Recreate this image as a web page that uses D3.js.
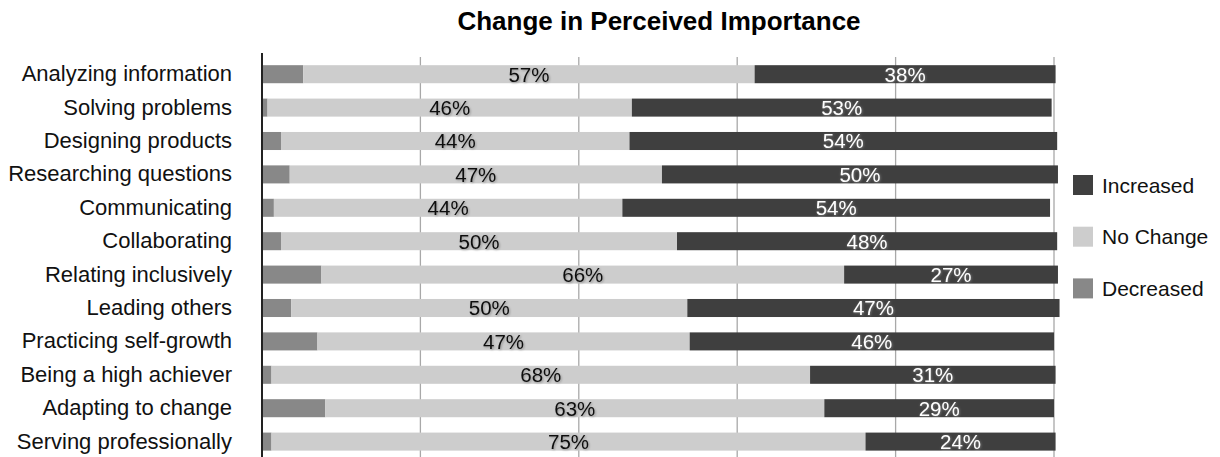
<!DOCTYPE html>
<html>
<head>
<meta charset="utf-8">
<script src="https://cdn.jsdelivr.net/npm/d3@7"></script>
<style>
  html, body { margin: 0; padding: 0; background: #fff; }
  svg { display: block; font-family: "Liberation Sans", Arial, Helvetica, sans-serif; }
</style>
</head>
<body>
<svg id="chart" width="1220" height="457"></svg>
<script>
// Skills, top to bottom
const categories = [
  "Analyzing information", "Solving problems", "Designing products",
  "Researching questions", "Communicating", "Collaborating",
  "Relating inclusively", "Leading others", "Practicing self-growth",
  "Being a high achiever", "Adapting to change", "Serving professionally"
];
// Share of respondents (%) per response
const decreased = [5.2, 0.7, 2.4, 3.5, 1.5, 2.4, 7.5, 3.7, 7.0, 1.2, 8.0, 1.2];
const noChange  = [57, 46, 44, 47, 44, 50, 66, 50, 47, 68, 63, 75];
const increased = [38, 53, 54, 50, 54, 48, 27, 47, 46, 31, 29, 24];

const seriesNames = ["Decreased", "No Change", "Increased"];
const legendOrder = ["Increased", "No Change", "Decreased"];
const gridTicks = [0, 20, 40, 60, 80, 100];

const colors = { "Decreased": "#888888", "No Change": "#cdcdcd", "Increased": "#3f3f3f" };

const rows = categories.map((c, i) => ({
  category: c,
  "Decreased": decreased[i],
  "No Change": noChange[i],
  "Increased": increased[i]
}));

const svg = d3.select("#chart");

const x = d3.scaleLinear().domain([0, 100]).range([262, 1054]);
const y = d3.scaleBand().domain(categories)
  .range([57.5, 458.3]).paddingInner(0.46).paddingOuter(0.23);

// Soft shadows behind the value labels
const defs = svg.append("defs");
const darkShadow = defs.append("filter").attr("id", "shadowDark")
  .attr("x", "-20%").attr("y", "-30%").attr("width", "140%").attr("height", "160%");
darkShadow.append("feDropShadow").attr("dx", 1).attr("dy", 1)
  .attr("stdDeviation", 0.9).attr("flood-color", "#000").attr("flood-opacity", 0.3);
const lightShadow = defs.append("filter").attr("id", "shadowLight")
  .attr("x", "-20%").attr("y", "-30%").attr("width", "140%").attr("height", "160%");
lightShadow.append("feDropShadow").attr("dx", 0.5).attr("dy", 0.5)
  .attr("stdDeviation", 1).attr("flood-color", "#fff").attr("flood-opacity", 0.35);

// Title
svg.append("text")
  .attr("x", 659).attr("y", 30)
  .attr("text-anchor", "middle")
  .attr("font-size", 26).attr("font-weight", "bold")
  .attr("fill", "#000")
  .text("Change in Perceived Importance");

// Vertical gridlines
svg.append("g")
  .selectAll("line")
  .data(gridTicks.slice(1))
  .join("line")
  .attr("x1", d => x(d)).attr("x2", d => x(d))
  .attr("y1", 57).attr("y2", 457)
  .attr("stroke", "#a8a8a8").attr("stroke-width", 1.3);

// Stacked bars
const stack = d3.stack().keys(seriesNames);
const layers = stack(rows);

svg.append("g")
  .selectAll("g")
  .data(layers)
  .join("g")
  .attr("fill", d => colors[d.key])
  .selectAll("rect")
  .data(d => d)
  .join("rect")
  .attr("x", d => x(d[0]))
  .attr("width", d => x(d[1]) - x(d[0]))
  .attr("y", d => y(d.data.category))
  .attr("height", y.bandwidth());

// Value labels for No Change and Increased
const labelLayers = layers.filter(l => l.key !== "Decreased");
labelLayers.forEach(layer => {
  const isInc = layer.key === "Increased";
  svg.append("g")
    .selectAll("text")
    .data(layer)
    .join("text")
    .attr("x", d => (x(d[0]) + x(d[1])) / 2)
    .attr("y", d => y(d.data.category) + y.bandwidth() / 2)
    .attr("dy", "0.36em")
    .attr("text-anchor", "middle")
    .attr("font-size", 20.5)
    .attr("fill", isInc ? "#ffffff" : "#111111")
    .attr("filter", isInc ? "url(#shadowLight)" : "url(#shadowDark)")
    .text(d => d.data[layer.key] + "%");
});

// Category axis
const yAxis = d3.axisLeft(y).tickSize(0).tickPadding(30);
const gAxis = svg.append("g")
  .attr("transform", `translate(${x(0)},0)`)
  .call(yAxis);
gAxis.select(".domain").remove();
gAxis.selectAll("text")
  .attr("font-size", 22)
  .attr("font-family", "'Liberation Sans', Arial, Helvetica, sans-serif")
  .attr("fill", "#111");

svg.append("line")
  .attr("x1", x(0)).attr("x2", x(0))
  .attr("y1", 53).attr("y2", 457)
  .attr("stroke", "#222").attr("stroke-width", 2);

// Legend
const legend = svg.append("g").attr("transform", "translate(1073,175)");
const li = legend.selectAll("g")
  .data(legendOrder)
  .join("g")
  .attr("transform", (d, i) => `translate(0,${i * 51.7})`);
li.append("rect")
  .attr("width", 20).attr("height", 20)
  .attr("fill", d => colors[d]);
li.append("text")
  .attr("x", 29).attr("y", 10).attr("dy", "0.36em")
  .attr("font-size", 21)
  .attr("fill", "#111")
  .text(d => d);
</script>
</body>
</html>
